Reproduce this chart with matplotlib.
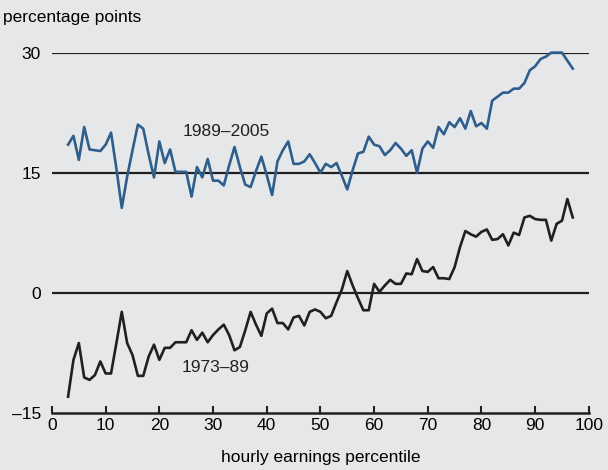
import numpy as np
import matplotlib
matplotlib.use("Agg")
from matplotlib import pyplot as plt

# hourly earnings percentiles, 3rd to 97th
percentile = list(range(3, 98))

# change in log hourly earnings, 1989-2005
late = [18.5, 19.6, 16.6, 20.7, 17.9, 17.8, 17.7, 18.5, 20.0, 15.5,
        10.6, 14.5, 17.8, 21.0, 20.5, 17.3, 14.4, 18.9, 16.2, 17.9,
        15.1, 15.1, 15.1, 12.0, 15.7, 14.4, 16.7, 14.0, 14.0, 13.4,
        15.9, 18.2, 15.7, 13.5, 13.2, 15.2, 17.0, 14.7, 12.2, 16.4,
        17.8, 18.9, 16.1, 16.1, 16.4, 17.3, 16.2, 15.0, 16.1, 15.7,
        16.2, 14.6, 12.9, 15.3, 17.4, 17.6, 19.5, 18.5, 18.3, 17.2,
        17.8, 18.7, 18.0, 17.1, 17.8, 15.0, 18.0, 18.9, 18.1, 20.7,
        19.8, 21.3, 20.7, 21.8, 20.5, 22.7, 20.8, 21.2, 20.5, 24.0,
        24.5, 25.0, 25.0, 25.5, 25.5, 26.2, 27.8, 28.3, 29.2, 29.5,
        30.0, 30.0, 30.0, 29.0, 28.0]

# change in log hourly earnings, 1973-89
early = [-13.0, -8.4, -6.3, -10.6, -10.9, -10.3, -8.6, -10.1, -10.1, -6.3,
         -2.4, -6.3, -7.8, -10.4, -10.4, -8.0, -6.5, -8.4, -6.9, -6.9,
         -6.2, -6.2, -6.2, -4.7, -5.9, -5.0, -6.2, -5.3, -4.6, -4.0,
         -5.3, -7.2, -6.8, -4.7, -2.4, -4.0, -5.4, -2.6, -2.0, -3.8,
         -3.8, -4.6, -3.1, -2.9, -4.1, -2.4, -2.1, -2.4, -3.2, -2.9,
         -1.2, 0.4, 2.7, 0.9, -0.7, -2.2, -2.2, 1.1, 0.1, 0.9,
         1.6, 1.1, 1.1, 2.4, 2.3, 4.2, 2.7, 2.6, 3.2, 1.8,
         1.8, 1.7, 3.2, 5.7, 7.7, 7.3, 7.0, 7.6, 7.9, 6.6,
         6.7, 7.3, 5.9, 7.5, 7.2, 9.4, 9.6, 9.2, 9.1, 9.1,
         6.5, 8.6, 9.0, 11.7, 9.4]

yticks = [-15, 0, 15, 30]
ytick_labels = ["\u201315", "0", "15", "30"]
xticks = list(range(0, 101, 10))

BG = "#e6e7e9"
BLUE = "#2e5e8c"
BLACK = "#231f20"
FS = 12.5

plt.rcParams['font.family'] = ['Liberation Sans', 'DejaVu Sans']

fig = plt.figure(figsize=(6.08, 4.70), dpi=100, facecolor=BG)
ax = fig.add_axes([0.0855, 0.122, 0.883, 0.766], facecolor=BG)

for y in yticks[1:]:
    ax.axhline(y, color=BLACK, lw=1.6, zorder=1)

ax.plot(percentile, late, color=BLUE, lw=1.9, clip_on=False, zorder=3)
ax.plot(percentile, early, color=BLACK, lw=1.9, clip_on=False, zorder=3)

ax.text(32.4, 20.1, "1989\u20132005", fontsize=FS, ha="center", va="center", color=BLACK)
ax.text(30.5, -9.4, "1973\u201389", fontsize=FS, ha="center", va="center", color=BLACK)

ax.set_xlim(0, 100)
ax.set_ylim(-15, 30)
ax.set_xticks(xticks)
ax.set_yticks(yticks)
ax.set_yticklabels(ytick_labels)

for s in ["top", "right", "left"]:
    ax.spines[s].set_visible(False)
ax.spines["bottom"].set_linewidth(1.8)
ax.spines["bottom"].set_color(BLACK)

ax.tick_params(axis="x", direction="in", length=5, width=1.5, color=BLACK,
               labelsize=FS, pad=4)
ax.tick_params(axis="y", length=0, labelsize=FS, pad=8)

ax.set_xlabel("hourly earnings percentile", fontsize=FS, labelpad=12)
fig.text(0.005, 0.962, "percentage points", fontsize=FS, ha="left", va="center")

fig.savefig("out.png", dpi=100, facecolor=BG)
